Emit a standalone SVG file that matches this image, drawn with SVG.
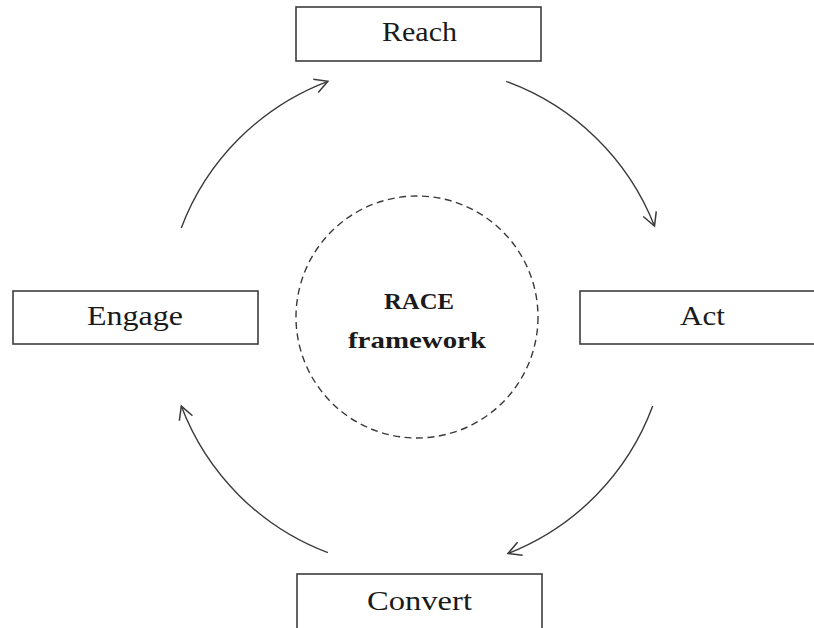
<svg xmlns="http://www.w3.org/2000/svg" width="814" height="628" viewBox="0 0 814 628">
  <style>
    .box { fill: #ffffff; stroke: #3c3c3c; stroke-width: 1.6; }
    .lbl { font-family: "Liberation Serif", "Times New Roman", serif; font-size: 28px; fill: #1a1a1a; text-anchor: middle; }
    .ctr { font-family: "Liberation Serif", "Times New Roman", serif; font-size: 24px; font-weight: bold; fill: #1a1a1a; text-anchor: middle; }
    .arc { fill: none; stroke: #3a3a3a; stroke-width: 1.4; marker-end: url(#arrow); }
    .ring { fill: none; stroke: #3a3a3a; stroke-width: 1.4; stroke-dasharray: 7 4.5; }
  </style>
  <defs>
    <marker id="arrow" markerUnits="userSpaceOnUse" markerWidth="20" markerHeight="20" refX="0" refY="0" viewBox="-16 -10 20 20" orient="auto">
      <path d="M -13 -7 L 0 0 L -13 7" fill="none" stroke="#3a3a3a" stroke-width="1.5" stroke-linejoin="miter"/>
    </marker>
  </defs>

  <g id="connectors">
    <path class="arc" d="M 181.3 227.9 A 252 252 0 0 1 327.9 81.3"/>
    <path class="arc" d="M 506.1 81.3 A 252 252 0 0 1 654.5 226"/>
    <path class="arc" d="M 652.7 406.1 A 252 252 0 0 1 508 553.5"/>
    <path class="arc" d="M 327.9 552.7 A 252 252 0 0 1 181.3 406.1"/>
  </g>

  <g id="center">
    <circle class="ring" cx="417" cy="317" r="121"/>
    <text class="ctr" x="419" y="309" textLength="70" lengthAdjust="spacingAndGlyphs">RACE</text>
    <text class="ctr" x="417" y="348" textLength="138" lengthAdjust="spacingAndGlyphs">framework</text>
  </g>

  <g id="reach">
    <rect class="box" x="296" y="7" width="245" height="54"/>
    <text class="lbl" x="419.5" y="41" textLength="75" lengthAdjust="spacingAndGlyphs">Reach</text>
  </g>

  <g id="act">
    <rect class="box" x="580" y="291" width="245" height="53"/>
    <text class="lbl" x="702.5" y="325" textLength="45" lengthAdjust="spacingAndGlyphs">Act</text>
  </g>

  <g id="convert">
    <rect class="box" x="297" y="574" width="245" height="60"/>
    <text class="lbl" x="419.5" y="610" textLength="105" lengthAdjust="spacingAndGlyphs">Convert</text>
  </g>

  <g id="engage">
    <rect class="box" x="13" y="291" width="245" height="53"/>
    <text class="lbl" x="135" y="325" textLength="96" lengthAdjust="spacingAndGlyphs">Engage</text>
  </g>
</svg>
